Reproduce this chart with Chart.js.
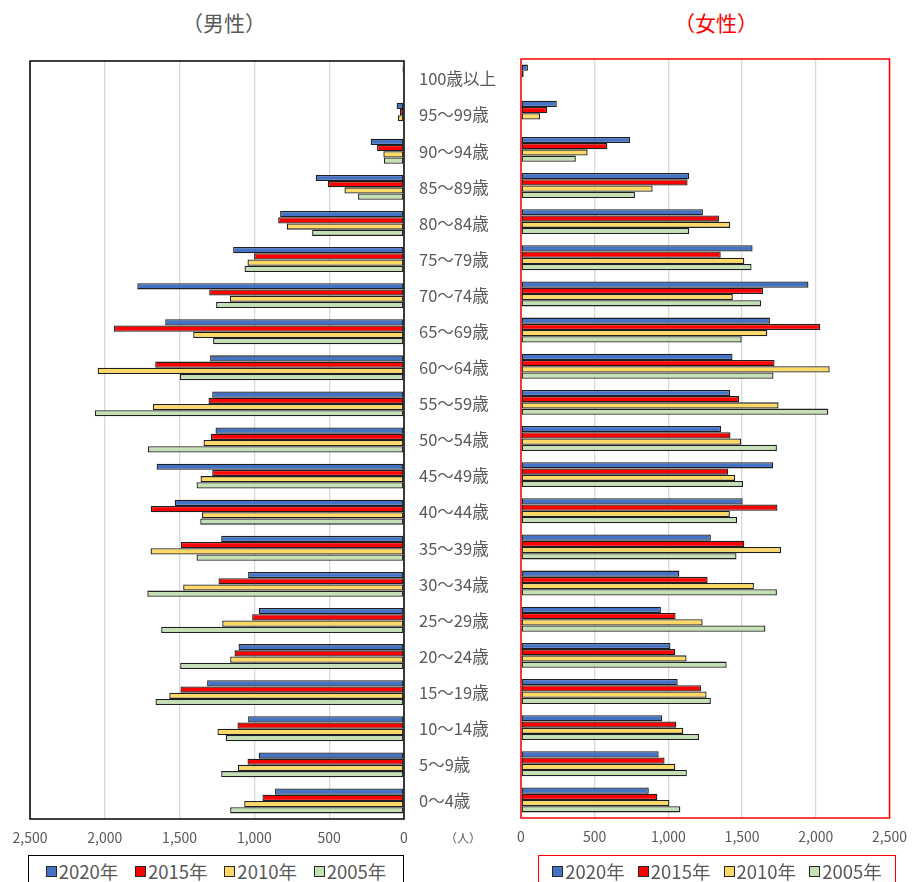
<!DOCTYPE html>
<html lang="ja">
<head>
<meta charset="utf-8">
<title>人口ピラミッド</title>
<script src="https://cdn.jsdelivr.net/npm/chart.js@4.4.1/dist/chart.umd.min.js"></script>
<style>
  body { margin: 0; background: #fff; font-family: "Noto Sans CJK JP", sans-serif; }
  #page { position: relative; width: 917px; height: 882px; overflow: hidden; }
  canvas { position: absolute; }
  .title { position: absolute; top: 8px; width: 200px; text-align: center; font-size: 21px; line-height: 28px; }
  .unit { position: absolute; left: 443px; top: 829px; width: 40px; text-align: center; font-size: 12px; color: #595959; }
  .legend { position: absolute; top: 855px; height: 40px; box-sizing: border-box; display: flex;
            justify-content: space-evenly; align-items: flex-start; padding-top: 3px; }
  .legend span.item { display: flex; align-items: center; font-size: 18.5px; color: #595959; line-height: 24px; }
  .legend span.box { display: inline-block; width: 9px; height: 9px; border: 1px solid #262626; margin-right: 2px; }
</style>
</head>
<body>
<div id="page">
  <div class="title" style="left:124px; color:#595959;">（男性）</div>
  <div class="title" style="left:616px; color:#ff0000;">（女性）</div>
  <canvas id="male" width="520" height="850" style="left:0; top:0;"></canvas>
  <canvas id="female" width="412" height="850" style="left:505px; top:0;"></canvas>
  <div class="unit">（人）</div>
  <div class="legend" id="legendM" style="left:28px; width:376px; border:1px solid #000;"></div>
  <div class="legend" id="legendF" style="left:538px; width:358px; border:1px solid #ff0000;"></div>
</div>
<script>
// 年齢階級（上から 100歳以上 → 0～4歳）
const ageLabels = ['100歳以上', '95～99歳', '90～94歳', '85～89歳', '80～84歳', '75～79歳', '70～74歳',
  '65～69歳', '60～64歳', '55～59歳', '50～54歳', '45～49歳', '40～44歳', '35～39歳', '30～34歳',
  '25～29歳', '20～24歳', '15～19歳', '10～14歳', '5～9歳', '0～4歳'];

const years = ['2020年', '2015年', '2010年', '2005年'];
const yearColors = ['#4472c4', '#ff0000', '#ffd966', '#c5e0b4'];

// 男性（人）
const male2020 = [10, 49, 223, 590, 828, 1142, 1783, 1596, 1296, 1282, 1260, 1654, 1532, 1222, 1042, 971, 1106, 1316, 1042, 971, 862];
const male2015 = [6, 27, 180, 508, 841, 1002, 1302, 1939, 1663, 1307, 1291, 1282, 1692, 1492, 1240, 1015, 1133, 1494, 1113, 1046, 946];
const male2010 = [0, 40, 138, 398, 784, 1046, 1164, 1409, 2048, 1679, 1340, 1360, 1351, 1694, 1476, 1215, 1162, 1569, 1247, 1111, 1068];
const male2005 = [0, 0, 134, 307, 614, 1066, 1256, 1276, 1498, 2066, 1712, 1387, 1362, 1387, 1716, 1623, 1496, 1661, 1191, 1222, 1162];

// 女性（人）
const female2020 = [47, 243, 740, 1141, 1234, 1571, 1950, 1689, 1435, 1419, 1357, 1711, 1504, 1288, 1074, 949, 1014, 1063, 958, 934, 867];
const female2015 = [18, 178, 586, 1130, 1343, 1355, 1642, 2030, 1720, 1479, 1421, 1406, 1740, 1515, 1266, 1049, 1047, 1221, 1054, 974, 925];
const female2010 = [0, 129, 452, 893, 1419, 1515, 1437, 1671, 2094, 1747, 1493, 1453, 1417, 1765, 1580, 1232, 1123, 1259, 1101, 1047, 1007];
const female2005 = [0, 0, 372, 773, 1141, 1564, 1629, 1497, 1713, 2085, 1736, 1506, 1466, 1462, 1736, 1658, 1395, 1288, 1208, 1125, 1081];

const xTicks = { min: 0, max: 2500, step: 500 };

// 描画領域の枠線
const frame = {
  id: 'frame',
  afterDraw(chart, args, opts) {
    const a = chart.chartArea, ctx = chart.ctx;
    ctx.save();
    ctx.strokeStyle = opts.color;
    ctx.lineWidth = 1.5;
    ctx.strokeRect(a.left, a.top, a.right - a.left, a.bottom - a.top);
    ctx.restore();
  }
};

function makeDatasets(series) {
  return series.map((d, i) => ({
    label: years[i],
    data: d,
    backgroundColor: yearColors[i],
    borderColor: '#1f1f1f',
    borderWidth: 1.3,
    borderSkipped: false,
    categoryPercentage: 0.69,
    barPercentage: 1.0
  }));
}

function pyramid(id, series, side) {
  const left = side === 'male';
  const yAxis = {
    display: left,
    position: 'right',
    grid: { display: false, drawTicks: false },
    border: { display: false },
    ticks: {
      padding: 15,
      color: '#595959',
      font: { family: '"Noto Sans CJK JP"', size: 16.5 }
    }
  };
  // 年齢ラベルの列幅を固定
  if (left) yAxis.afterFit = scale => { scale.width = 116; };

  return new Chart(document.getElementById(id), {
    type: 'bar',
    data: { labels: ageLabels, datasets: makeDatasets(series) },
    plugins: [frame],
    options: {
      indexAxis: 'y',
      responsive: false,
      animation: false,
      layout: left
        ? { padding: { top: 61, left: 30, right: 0, bottom: 1 } }
        : { padding: { top: 59, left: 16, right: 22, bottom: 2 } },
      plugins: {
        legend: { display: false },
        tooltip: { enabled: false },
        frame: { color: left ? '#000000' : '#ff0000' }
      },
      scales: {
        x: {
          reverse: left,
          min: xTicks.min,
          max: xTicks.max,
          afterFit(scale) { scale.height = 30; },
          grid: { color: '#d9d9d9', lineWidth: 1.3, drawTicks: false },
          border: { display: false },
          ticks: {
            stepSize: xTicks.step,
            padding: 10,
            color: '#595959',
            font: { family: '"Noto Sans CJK JP"', size: 14 },
            callback: v => v.toLocaleString('en-US')
          }
        },
        y: yAxis
      }
    }
  });
}

pyramid('male', [male2020, male2015, male2010, male2005], 'male');
pyramid('female', [female2020, female2015, female2010, female2005], 'female');

// 凡例
['legendM', 'legendF'].forEach(id => {
  const el = document.getElementById(id);
  years.forEach((y, i) => {
    const item = document.createElement('span');
    item.className = 'item';
    const box = document.createElement('span');
    box.className = 'box';
    box.style.background = yearColors[i];
    item.appendChild(box);
    item.appendChild(document.createTextNode(y));
    el.appendChild(item);
  });
});
</script>
</body>
</html>
